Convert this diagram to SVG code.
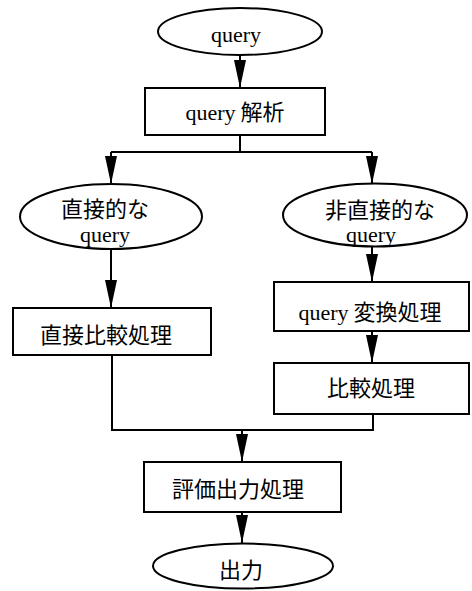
<svg xmlns="http://www.w3.org/2000/svg" width="472" height="591" viewBox="0 0 472 591">
<style>
  .shape { fill: #fff; stroke: #000; stroke-width: 2; }
  .line { fill: none; stroke: #000; stroke-width: 2; }
  .arrow { fill: none; stroke: #000; stroke-width: 2; marker-end: url(#arr); }
  .cjk { font-family: "Noto Sans CJK JP", "Noto Sans", sans-serif; font-size: 22px; fill: #000; text-anchor: middle; }
  .lat { font-family: "Liberation Serif", "DejaVu Serif", serif; font-size: 22px; fill: #000; text-anchor: middle; }
</style>
<defs>
  <marker id="arr" markerUnits="userSpaceOnUse" markerWidth="28" markerHeight="12" viewBox="0 0 28 12" refX="28" refY="6" orient="auto">
    <path d="M0,0 L28,6 L0,12 Z" fill="#000"/>
  </marker>
</defs>
<rect width="472" height="591" fill="#fff"/>

<g id="connectors">
  <line class="arrow" x1="240" y1="55" x2="240" y2="88"/>
  <polyline class="line" points="240,135 240,152"/>
  <polyline class="line" points="111,152 372,152"/>
  <line class="arrow" x1="111" y1="152" x2="111" y2="184"/>
  <line class="arrow" x1="372" y1="152" x2="372" y2="184"/>
  <line class="arrow" x1="111" y1="249" x2="111" y2="308"/>
  <line class="arrow" x1="372" y1="246" x2="372" y2="282"/>
  <line class="arrow" x1="372" y1="331" x2="372" y2="363"/>
  <polyline class="line" points="112,355 112,430 373,430 373,414"/>
  <line class="arrow" x1="242" y1="430" x2="242" y2="462"/>
  <line class="arrow" x1="242" y1="512" x2="242" y2="543"/>
</g>

<g id="n-query">
  <ellipse class="shape" cx="240" cy="31.5" rx="82" ry="23.5"/>
  <text class="lat" x="236" y="42">query</text>
</g>
<g id="n-parse">
  <rect class="shape" x="145" y="88" width="180" height="47"/>
  <text class="cjk" x="235" y="120"><tspan class="lat">query</tspan> 解析</text>
</g>
<g id="n-direct">
  <ellipse class="shape" cx="111" cy="216.5" rx="91" ry="32.5"/>
  <text class="cjk" x="105" y="217">直接的な</text>
  <text class="lat" x="105" y="242">query</text>
</g>
<g id="n-indirect">
  <ellipse class="shape" cx="375" cy="215" rx="92" ry="31.5"/>
  <text class="cjk" x="380" y="218">非直接的な</text>
  <text class="lat" x="371" y="242">query</text>
</g>
<g id="n-direct-compare">
  <rect class="shape" x="13" y="308" width="198" height="47"/>
  <text class="cjk" x="106" y="343">直接比較処理</text>
</g>
<g id="n-convert">
  <rect class="shape" x="274" y="282" width="195" height="49"/>
  <text class="cjk" x="370" y="320"><tspan class="lat">query</tspan> 変換処理</text>
</g>
<g id="n-compare">
  <rect class="shape" x="274" y="363" width="195" height="51"/>
  <text class="cjk" x="371" y="396">比較処理</text>
</g>
<g id="n-eval">
  <rect class="shape" x="144" y="462" width="197" height="50"/>
  <text class="cjk" x="238" y="497">評価出力処理</text>
</g>
<g id="n-output">
  <ellipse class="shape" cx="243" cy="566" rx="90" ry="22.5"/>
  <text class="cjk" x="241" y="578">出力</text>
</g>
</svg>
